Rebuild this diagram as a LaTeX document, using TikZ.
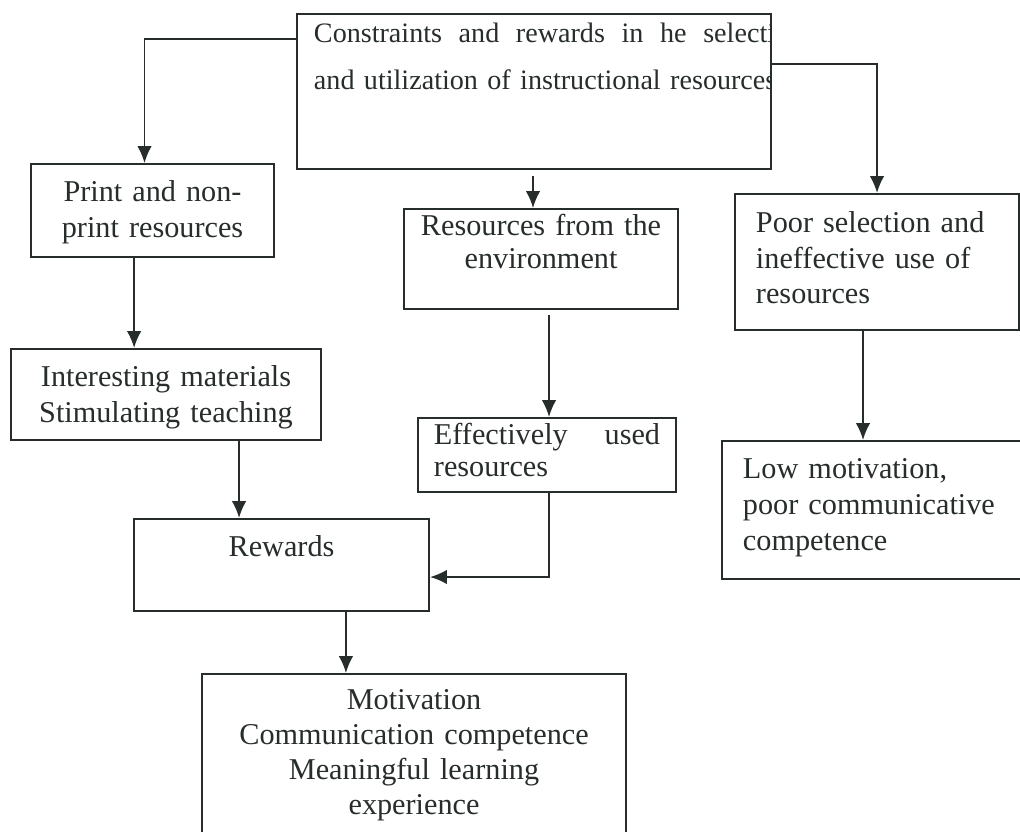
\documentclass[tikz,border=0pt]{standalone}
\usepackage{fontspec}
\setmainfont{Liberation Serif}
\usepackage{xcolor}
\usepackage{tikz}
\usetikzlibrary{arrows.meta,calc}
\definecolor{ink}{HTML}{262D2A}
\tikzset{
  Box/.style={
    draw=ink, line width=1.4pt,
    anchor=north west,
    inner xsep=0pt, inner ysep=0pt,
    text=ink,
    font=\fontsize{21.5}{25.6}\selectfont
  },
  Flow/.style={
    draw=ink, line width=1.3pt,
    -{Latex[length=0.42cm,width=0.36cm]}
  }
}

\begin{document}
\begin{tikzpicture}[x=0.025cm, y=-0.025cm, line join=miter]
  \clip (0,0) rectangle (1020,831);
  \fill[white] (0,0) rectangle (1020,831);

  % top box (text runs into the right border)
  \begin{scope}
    \clip (297,14) rectangle (769,167);
    \node[Box, draw=none, align=left, text width=11cm, inner xsep=0.4cm,
      minimum width=11.8cm, minimum height=3.825cm,
      text height=0.7cm, text depth=3.125cm,
      font=\fontsize{20}{33}\selectfont] (top) at (297,14)
      {\hbox to 11.525cm{Constraints\hfill and\hfill rewards\hfill in\hfill he\hfill selecti}\\
       \hbox{and utilization of instructional resources}};
  \end{scope}
  \draw[ink, line width=1.4pt] (top.north west) rectangle (top.south east);

  % left column
  \node[Box, align=center, text width=6.075cm, minimum height=2.325cm,
    text height=0.925cm, text depth=1.4cm,
    font=\fontsize{21.5}{26.3}\selectfont] (print) at (30,163)
    {Print and non-\\print resources};
  \node[Box, align=center, text width=7.75cm, minimum height=2.275cm,
    text height=0.925cm, text depth=1.35cm] (interest) at (10,348)
    {Interesting materials\\Stimulating teaching};
  \node[Box, align=center, text width=7.375cm, minimum height=2.3cm,
    text height=0.925cm, text depth=1.375cm] (rewards) at (133,518)
    {Rewards};
  \node[Box, align=center, text width=10.6cm, minimum height=4.875cm,
    text height=0.875cm, text depth=4cm,
    font=\fontsize{21.5}{24.9}\selectfont] (motiv) at (201,673)
    {Motivation\\Communication competence\\Meaningful learning\\experience};

  % middle column
  \node[Box, align=center, text width=6.85cm, minimum height=2.5cm,
    text height=0.675cm, text depth=1.825cm,
    font=\fontsize{21.5}{22.8}\selectfont] (env) at (403,208)
    {Resources from the\\environment};
  \node[Box, align=left, text width=5.65cm, inner xsep=0.4cm, minimum height=1.85cm,
    text height=0.65cm, text depth=1.2cm,
    font=\fontsize{21.5}{22.8}\selectfont] (eff) at (417,417)
    {\hbox to 5.65cm{Effectively\hfill used}\\resources};

  % right column
  \node[Box, align=left, text width=6.05cm, inner xsep=0.525cm, minimum height=3.4cm,
    text height=0.95cm, text depth=2.45cm] (poor) at (734,193)
    {Poor selection and\\ineffective use of\\resources};
  \node[Box, align=left, text width=6.95cm, inner xsep=0.525cm, minimum height=3.45cm,
    text height=0.925cm, text depth=2.525cm] (low) at (721,440)
    {Low motivation,\\poor communicative\\competence};

  % connectors
  \draw[Flow] ([yshift=-0.625cm]top.north west) -| ([xshift=-0.2cm]print.north);
  \draw[Flow, shorten <=0.18cm] ([xshift=-0.2cm]env.north |- top.south) -- ([xshift=-0.2cm]env.north);
  \draw[Flow] ([yshift=-1.25cm]top.north east) -| (poor.north);
  \draw[Flow] ([xshift=-0.46cm]print.south) -- ([xshift=-0.46cm]print.south |- interest.north);
  \draw[Flow] ([xshift=1.825cm]interest.south) -- ([xshift=1.825cm]interest.south |- rewards.north);
  \draw[Flow, shorten <=0.12cm] ([xshift=0.2cm]env.south) -- ([xshift=0.2cm]env.south |- eff.north);
  \draw[Flow] ([xshift=0.05cm]eff.south) |- ([yshift=-0.3cm]rewards.east);
  \draw[Flow] ([xshift=-0.35cm]poor.south) -- ([xshift=-0.35cm]poor.south |- low.north);
  \draw[Flow] ([xshift=1.61cm]rewards.south) -- ([xshift=1.61cm]rewards.south |- motiv.north);
\end{tikzpicture}
\end{document}
